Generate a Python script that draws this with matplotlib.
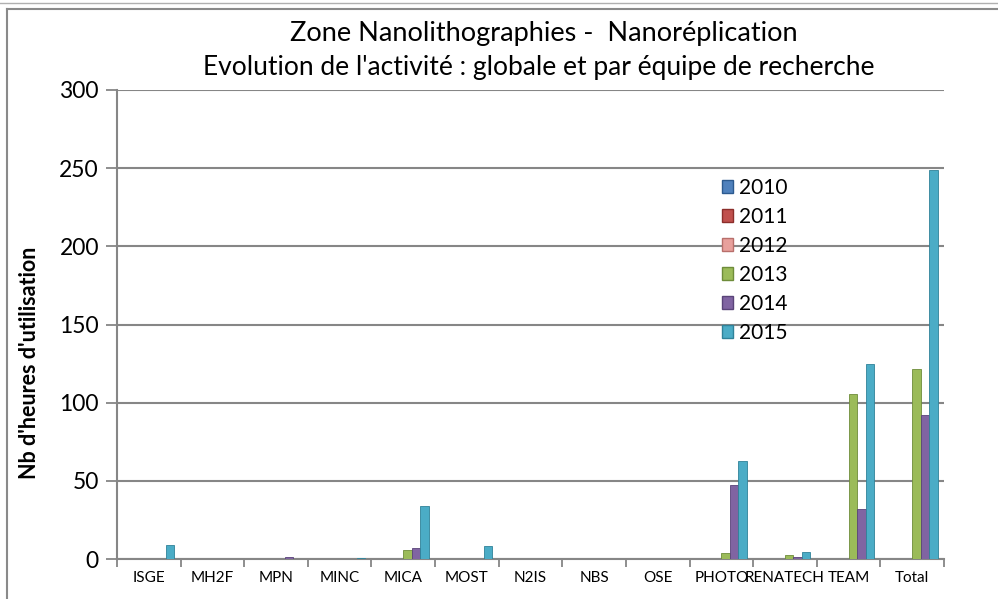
import numpy as np
import matplotlib.pyplot as plt
from matplotlib.patches import Rectangle
from matplotlib.lines import Line2D

plt.rcParams['font.family'] = ['Lato', 'DejaVu Sans']

categories = ['ISGE', 'MH2F', 'MPN', 'MINC', 'MICA', 'MOST', 'N2IS', 'NBS', 'OSE',
              'PHOTO', 'RENATECH', 'TEAM', 'Total']
years = ['2010', '2011', '2012', '2013', '2014', '2015']
v2010 = [0, 0, 0, 0, 0, 0, 0, 0, 0, 0, 0, 0, 0]
v2011 = [0, 0, 0, 0, 0, 0, 0, 0, 0, 0, 0, 0, 0]
v2012 = [0, 0, 0, 0, 0, 0, 0, 0, 0, 0, 0, 0, 0]
v2013 = [0, 0, 0, 0, 6, 0, 0, 0, 0, 4, 2.5, 105.5, 121.5]
v2014 = [0, 0, 1.5, 0, 7, 0, 0, 0, 0, 47.5, 1, 32, 92]
v2015 = [9, 0, 0, 0.5, 34, 8, 0, 0, 0, 63, 4.7, 125, 249]
colors = ['#4F81BD', '#C0504D', '#E8A09C', '#9BBB59', '#8064A2', '#4BACC6']
edges = ['#2C5A8F', '#8C2E2B', '#B86F6B', '#6E8C3A', '#5A4479', '#2F8299']

series = [v2010, v2011, v2012, v2013, v2014, v2015]

fig = plt.figure(figsize=(9.98, 5.99), dpi=100)
ax = fig.add_axes([117 / 998, 1 - 559 / 599, (944 - 117) / 998, (559 - 90) / 599])

x = np.arange(len(categories))
bw = 0.8 / 6
for i, (vals, c, e) in enumerate(zip(series, colors, edges)):
    ax.bar(x - 0.4 + bw * (i + 0.5), vals, bw, color=c, edgecolor=e, linewidth=0.6,
           label=years[i], zorder=3)

ax.set_xlim(-0.5, len(categories) - 0.5)
ax.set_ylim(0, 300)
ax.set_yticks(range(0, 301, 50))
ax.yaxis.grid(True, color='#868686', linewidth=1.5)
ax.set_axisbelow(True)
ax.set_xticks(x)
ax.set_xticklabels(categories, fontsize=11)
ax.set_xticks(np.arange(-0.5, len(categories), 1), minor=True)
ax.tick_params(axis='x', which='major', length=0, pad=9)
ax.tick_params(axis='x', which='minor', length=6, width=1.3, color='#868686')
ax.tick_params(axis='y', length=8, width=1.3, color='#868686', labelsize=16.5, pad=5)
for s in ['top', 'right']:
    ax.spines[s].set_visible(False)
for s in ['left', 'bottom']:
    ax.spines[s].set_color('#868686')
    ax.spines[s].set_linewidth(1.5)

ax.set_ylabel("Nb d'heures d'utilisation", fontsize=15.5, fontweight='bold')
ax.yaxis.set_label_coords(-(117 - 40) / 827, (559 - 363) / 469)

fig.text(0.545, 1 - 33 / 599, 'Zone Nanolithographies -  Nanoréplication',
         ha='center', va='center', fontsize=19.5)
fig.text(0.54, 1 - 67 / 599, "Evolution de l'activité : globale et par équipe de recherche",
         ha='center', va='center', fontsize=19)

handles = [Rectangle((0, 0), 1, 1, facecolor=c, edgecolor=e) for c, e in zip(colors, edges)]
ax.legend(handles, years, loc='upper left', bbox_to_anchor=(0.721, 0.83), frameon=False,
          fontsize=15, handlelength=0.55, handleheight=0.55, handletextpad=0.3,
          labelspacing=0.43, borderaxespad=0)

# chart frame
fig.add_artist(Line2D([7 / 998, 7 / 998], [0, 1 - 9 / 599], transform=fig.transFigure,
                      color='#8a8a8a', lw=1.5))
fig.add_artist(Line2D([7 / 998, 1], [1 - 9 / 599, 1 - 9 / 599], transform=fig.transFigure,
                      color='#8a8a8a', lw=1.5))
fig.add_artist(Line2D([0, 1], [1 - 3 / 599, 1 - 3 / 599], transform=fig.transFigure,
                      color='#b0b0b0', lw=1))

fig.savefig('out.png', dpi=100)
